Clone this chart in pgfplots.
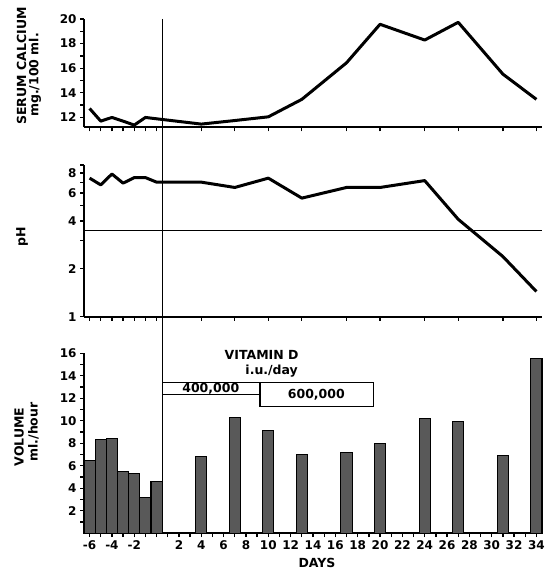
\documentclass[border=0pt]{standalone}
\usepackage{fontspec}
\setmainfont{DejaVu Sans}
\usepackage{pgfplots}
\pgfplotsset{compat=1.18}
\begin{document}
\begin{tikzpicture}[x=1pt,y=1pt]
\path[use as bounding box] (0,0) rectangle (544,575);
\pgfplotsset{
  panel/.style={
    scale only axis, width=458pt, xmin=-6.5, xmax=34.5,
    axis lines=left, axis line style={-, line width=1.8pt},
    tick align=outside, major tick length=4pt, minor tick length=4pt,
    tick style={black, line width=1.3pt},
    tick label style={font=\bfseries\fontsize{12}{12}\selectfont},
    clip=false, anchor=south west,
  },
  dayticks/.style={xtick={-6,-5,-4,-3,-2,-1,0,4,7,10,13,17,20,24,27,31,34}, xticklabels={}},
}
% ---------- top panel: serum calcium
\begin{axis}[panel, dayticks, at={(84pt,447.7pt)}, height=108.3pt,
  ymin=11.2, ymax=20, ytick={12,14,16,18,20}, yticklabels={12,14,16,18,20},
  minor ytick={13,15,17,19}]
\addplot[line width=3pt, line join=round, black] coordinates {
(-6,12.73) (-5,11.70) (-4,12.0) (-3,11.7) (-2,11.38) (-1,12.0) (0,11.89)
(4,11.46) (7,11.75) (10,12.05) (13,13.47) (17,16.44) (20,19.57) (24,18.29)
(27,19.73) (31,15.52) (34,13.47)};
\coordinate (vtop) at (axis cs:0.5,20);
\end{axis}
% ---------- middle panel: pH (log scale)
\begin{axis}[panel, dayticks, at={(84pt,258.3pt)}, height=151.7pt,
  ymode=log, ymin=1, ymax=9, ytick={1,2,4,6,8}, yticklabels={1,2,4,6,8},
  minor ytick={3,5,7,9}]
\addplot[line width=1pt, black] coordinates {(-6.5,3.5) (34.5,3.5)};
\addplot[line width=3pt, line join=round, black] coordinates {
(-6,7.44) (-5,6.75) (-4,7.9) (-3,6.92) (-2,7.5) (-1,7.5) (0,7.02)
(4,7.02) (7,6.5) (10,7.44) (13,5.57) (17,6.5) (20,6.5) (24,7.18)
(27,4.1) (31,2.39) (34,1.44)};
\end{axis}
% ---------- bottom panel: volume
\begin{axis}[panel, at={(84pt,41.8pt)}, height=179.9pt,
  ymin=0, ymax=16, ytick={2,4,6,8,10,12,14,16}, yticklabels={2,4,6,8,10,12,14,16},
  minor ytick={1,3,5,7,9,11,13,15},
  xtick={-6,-4,-2,2,4,...,34},
  xticklabels={-6,-4,-2,2,4,6,8,10,12,14,16,18,20,22,24,26,28,30,32,34},
  minor xtick={-5,-3,-1,0,1,3,5,7,9,11,13,15,17,19,21,23,25,27,29,31,33}]
\addplot[ybar, bar width=1, fill=black!65, draw=black, line width=1.1pt] coordinates {
(-6,6.5) (-5,8.3) (-4,8.4) (-3,5.45) (-2,5.3) (-1,3.2) (0,4.6)
(4,6.8) (7,10.25) (10,9.1) (13,7.0) (17,7.2) (20,7.95) (24,10.2)
(27,9.95) (31,6.95) (34,15.5)};
\coordinate (vbot) at (axis cs:0.5,0);
\draw[line width=1.2pt, fill=white] (axis cs:0.5,12.3) rectangle (axis cs:9.25,13.42);
\draw[line width=1.2pt, fill=white] (axis cs:9.25,11.25) rectangle (axis cs:19.4,13.42);
\begin{scope}[every node/.style={font=\bfseries\fontsize{12.5}{12.5}\selectfont}]
\node at (axis cs:9.4,15.85) {VITAMIN D};
\node at (axis cs:10.3,14.4) {i.u./day};
\node at (axis cs:4.85,12.86) {400,000};
\node at (axis cs:14.3,12.35) {600,000};
\end{scope}
\end{axis}
\draw[line width=1pt] (vtop) -- (vbot);
% ---------- labels
\begin{scope}[every node/.style={font=\bfseries\fontsize{12.5}{12.5}\selectfont}]
\node[rotate=90] at (21.5,509) {SERUM CALCIUM};
\node[rotate=90] at (35,500) {mg./100 ml.};
\node[rotate=90] at (22,338) {pH};
\node[rotate=90] at (19,138) {VOLUME};
\node[rotate=90] at (33.5,143) {ml./hour};
\node at (317,12) {DAYS};
\end{scope}
\end{tikzpicture}
\end{document}
